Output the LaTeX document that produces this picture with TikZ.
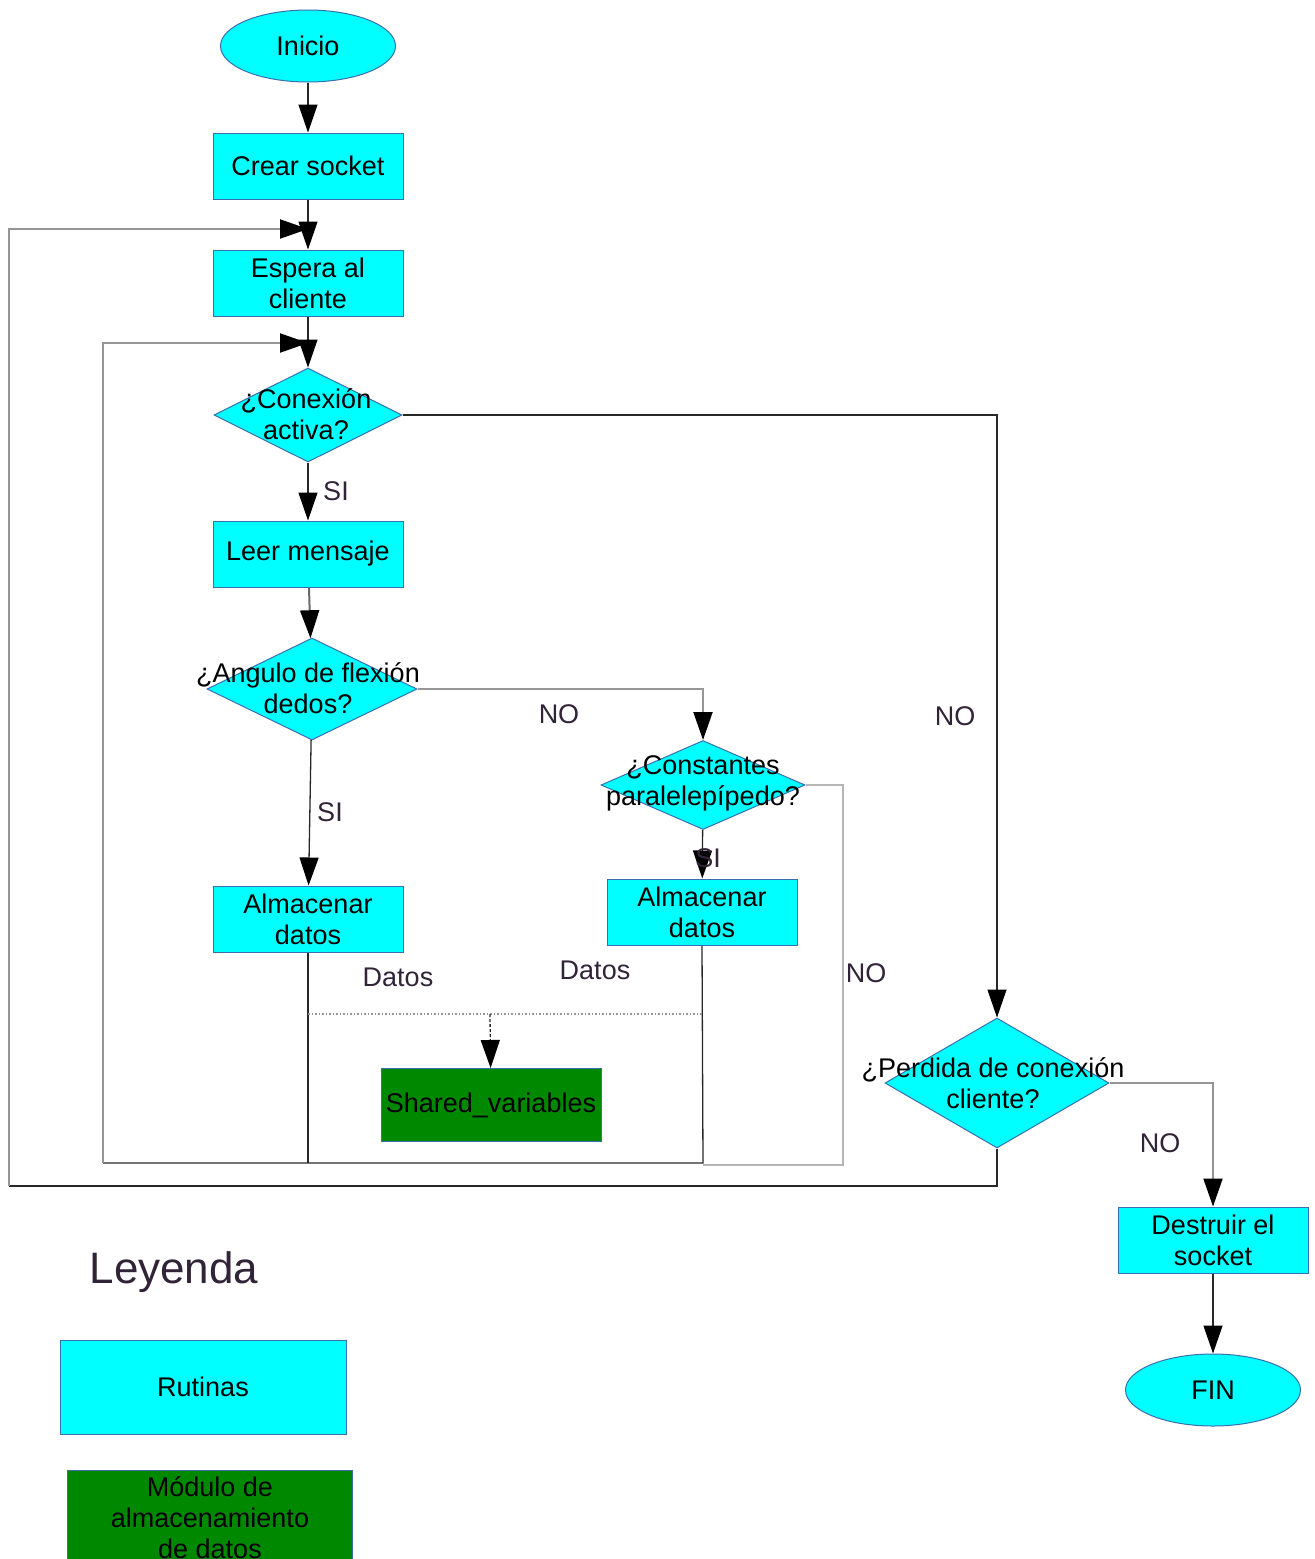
\documentclass[tikz,border=0pt]{standalone}
\usepackage{fontspec}
\setmainfont{Liberation Sans}
\usetikzlibrary{shapes.geometric,arrows.meta}
\definecolor{boxcyan}{RGB}{0,255,255}
\definecolor{boxedge}{RGB}{58,110,175}
\definecolor{modgreen}{RGB}{0,136,0}
\definecolor{lbl}{RGB}{50,36,56}
\definecolor{lightline}{RGB}{150,150,150}
\definecolor{darkline}{RGB}{40,40,40}
\tikzset{
  base/.style={font=\fontsize{27}{31}\selectfont, align=center, text=black},
  routine/.style={base, rectangle, draw=boxedge, line width=1pt, fill=boxcyan,
    minimum width=190, minimum height=66, inner sep=0},
  terminal/.style={base, ellipse, draw=boxedge, line width=1pt, fill=boxcyan,
    minimum width=175, minimum height=72, inner sep=0},
  decision/.style={diamond, draw=boxedge, line width=1pt, fill=boxcyan, inner sep=0},
  module/.style={base, rectangle, draw=boxedge, line width=1pt, fill=modgreen,
    inner sep=0},
  qtext/.style={base},
  elabel/.style={font=\fontsize{27}{31}\selectfont, text=lbl},
  tip/.style={-{Triangle[length=28pt,width=19pt,color=black]}},
  flow/.style={draw=darkline, line width=1.3pt},
  soft/.style={draw=lightline, line width=2pt},
}
\begin{document}
\begin{tikzpicture}[x=1pt,y=-1pt]
\clip (0,0) rectangle (1315,1559);
\useasboundingbox (0,0) rectangle (1315,1559);

% main flow
\node[terminal] (inicio) at (308,46) {Inicio};
\node[routine] (crear) at (308,166) {Crear socket};
\node[routine] (espera) at (308,283) {Espera al\\cliente};
\node[decision, minimum width=188, minimum height=94] (conexion) at (308,415) {};
\node[qtext] (conexiontxt) at (306,414) {¿Conexión\\activa?};
\node[routine] (leer) at (308,554) {Leer mensaje};
\node[decision, minimum width=210, minimum height=102] (angulo) at (312,689) {};
\node[qtext] (angulotxt) at (308,688) {¿Angulo de flexión\\dedos?};
\node[routine] (almac1) at (308,919) {Almacenar\\datos};
\node[decision, minimum width=204, minimum height=89] (constantes) at (703,785) {};
\node[qtext] (constantestxt) at (703,783) {¿Constantes\\paralelepípedo?};
\node[routine] (almac2) at (702,912) {Almacenar\\datos};
\node[module, minimum width=220, minimum height=73] (shared) at (491,1105) {Shared\_variables};
\node[decision, minimum width=224, minimum height=130] (perdida) at (997,1083) {};
\node[qtext] (perdidatxt) at (993,1083) {¿Perdida de conexión\\cliente?};
\node[routine] (destruir) at (1213,1240) {Destruir el\\socket};
\node[terminal] (fin) at (1213,1390) {FIN};

% junction points of the loops
\coordinate (j1) at (308,229);
\coordinate (j2) at (308,343);
\coordinate (lb1) at (9,1186);
\coordinate (b1) at (308,1163);
\coordinate (b2) at (703,1163);
\coordinate (bl) at (103,1163);
\coordinate (cn) at (843,1165);
\coordinate (cb) at (703,1165);
\coordinate (d1) at (308,1014);
\coordinate (d2) at (703,1014);
\coordinate (dm) at (490,1014);

% straight flow
\draw[flow, tip] (inicio) -- (crear);
\draw[flow, tip] (crear) -- (espera);
\draw[flow, tip] (espera) -- (conexion);
\draw[flow, tip] (conexion) -- (leer);
\draw[soft, draw=darkline!70, tip] (leer) -- (angulo);
\draw[flow, tip] (angulo) -- (almac1);
\draw[flow, tip] (constantes) -- (almac2);
\draw[flow, tip] (destruir) -- (fin);

% branches
\draw[soft, tip] (angulo.east) -| (constantes.north);
\draw[flow, tip] (conexion.east) -| (perdida.north);
\draw[soft, tip] (perdida.east) -| (destruir.north);
\draw[soft, draw=lightline!70] (constantes.east) -| (cn) -- (cb);

% return loops
\draw[flow] (almac1.south) -- (b1);
\draw[flow] (almac2.south) -- (b2) -- (bl);
\draw[soft, tip] (bl) |- (j2);
\draw[flow] (perdida.south) |- (lb1);
\draw[soft, tip] (lb1) |- (j1);

% data to the storage module
\draw[lightline, line width=1.5pt, dotted] (d1) -- (d2);
\draw[flow, densely dashed, tip] (dm) -- (shared);

% edge labels
\node[elabel] (si1) at (336,491) {SI};
\node[elabel] (si2) at (330,812) {SI};
\node[elabel] (si3) at (708,858) {SI};
\node[elabel] (no1) at (559,714) {NO};
\node[elabel] (no2) at (955,716) {NO};
\node[elabel] (no3) at (866,973) {NO};
\node[elabel] (no4) at (1160,1143) {NO};
\node[elabel] (datos1) at (398,977) {Datos};
\node[elabel] (datos2) at (595,970) {Datos};

% legend
\node[font=\fontsize{44}{50}\selectfont, text=lbl] (leyenda) at (174,1272) {Leyenda};
\node[routine, minimum width=286, minimum height=94] (rutinas) at (203,1387) {Rutinas};
\node[module, minimum width=285, minimum height=96] (modulo) at (210,1518)
  {Módulo de\\almacenamiento\\de datos};
\end{tikzpicture}
\end{document}
